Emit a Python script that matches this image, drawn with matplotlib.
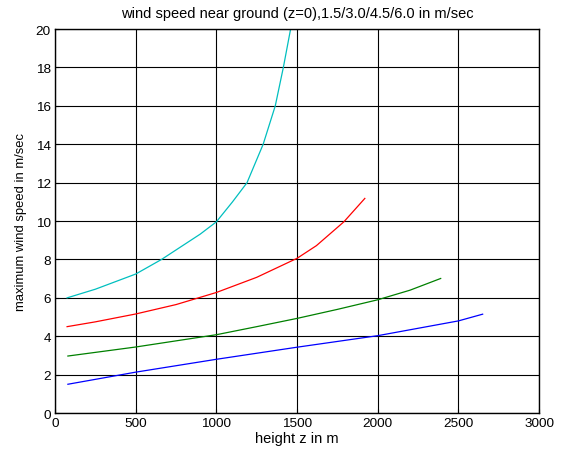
import matplotlib
matplotlib.use("Agg")
import matplotlib.pyplot as plt

plt.rcParams["font.family"] = ["Liberation Sans", "DejaVu Sans"]

# height z (m) and max wind speed (m/s) for each ground wind speed
z_15 = [80, 500, 1000, 1500, 2000, 2500, 2650]
v_15 = [1.5, 2.13, 2.8, 3.43, 4.03, 4.8, 5.15]

z_30 = [80, 500, 1000, 1250, 1500, 1750, 2000, 2200, 2390]
v_30 = [2.97, 3.44, 4.08, 4.5, 4.93, 5.4, 5.9, 6.4, 7.01]

z_45 = [75, 250, 500, 750, 1000, 1250, 1500, 1620, 1790, 1920]
v_45 = [4.5, 4.75, 5.16, 5.65, 6.28, 7.07, 8.06, 8.72, 9.96, 11.18]

z_60 = [75, 250, 500, 660, 900, 1000, 1100, 1190, 1290, 1365, 1415, 1460, 1500]
v_60 = [6.0, 6.45, 7.24, 8.0, 9.32, 9.96, 11.0, 12.0, 14.0, 16.0, 18.0, 20.0, 21.5]

fig = plt.figure(figsize=(5.61, 4.56), dpi=100)
ax = fig.add_axes([0.098, 0.092, 0.863, 0.842])

ax.plot(z_15, v_15, color="blue", lw=0.9)
ax.plot(z_30, v_30, color="green", lw=0.9)
ax.plot(z_45, v_45, color="red", lw=0.9)
ax.plot(z_60, v_60, color="#00bfbf", lw=0.9)

ax.set_xlim(0, 3000)
ax.set_ylim(0, 20)
ax.set_xticks(range(0, 3001, 500))
ax.set_yticks(range(0, 21, 2))
ax.grid(True, color="black", lw=0.8, ls="-")
ax.tick_params(direction="in", labelsize=9.7, length=3, pad=3)
for s in ax.spines.values():
    s.set_linewidth(1.0)

ax.set_xlabel("height z in m", fontsize=10.5, labelpad=1)
ax.set_ylabel("maximum wind speed in m/sec", fontsize=9.4, labelpad=6)
ax.set_title("wind speed near ground (z=0),1.5/3.0/4.5/6.0 in m/sec", fontsize=10.5, pad=9)

fig.savefig("out.png", dpi=100, facecolor="white")
